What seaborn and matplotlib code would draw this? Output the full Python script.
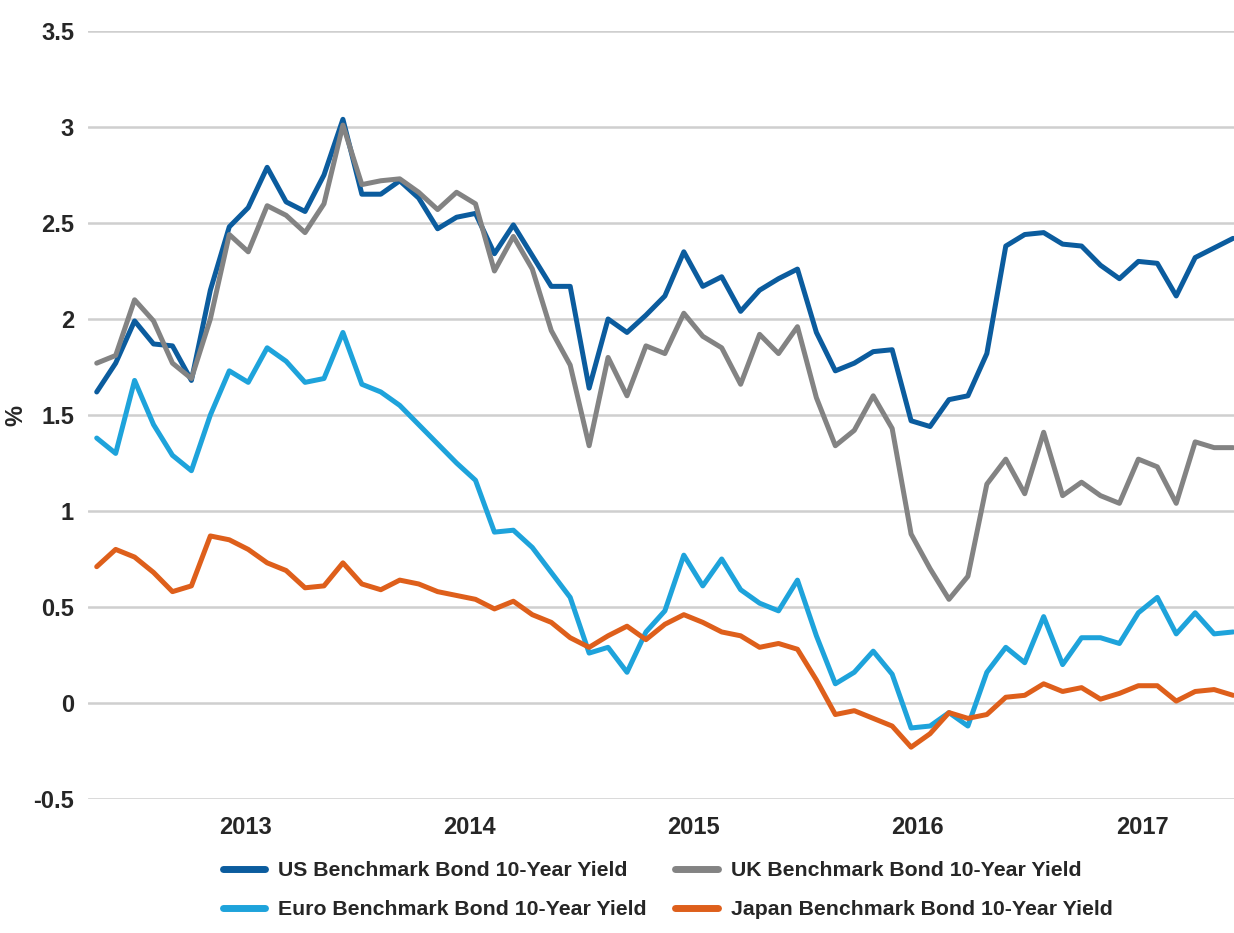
import numpy as np
import pandas as pd
import seaborn as sns
import matplotlib.pyplot as plt

# monthly 10-year benchmark yields, Nov 2012 .. Nov 2017 (61 months)
us = [1.62, 1.77, 1.99, 1.87, 1.86, 1.68, 2.15, 2.48, 2.58, 2.79,
      2.61, 2.56, 2.75, 3.04, 2.65, 2.65, 2.72, 2.63, 2.47, 2.53,
      2.55, 2.34, 2.49, 2.33, 2.17, 2.17, 1.64, 2.00, 1.93, 2.02,
      2.12, 2.35, 2.17, 2.22, 2.04, 2.15, 2.21, 2.26, 1.93, 1.73,
      1.77, 1.83, 1.84, 1.47, 1.44, 1.58, 1.60, 1.82, 2.38, 2.44,
      2.45, 2.39, 2.38, 2.28, 2.21, 2.30, 2.29, 2.12, 2.32, 2.37, 2.42]
uk = [1.77, 1.81, 2.10, 1.99, 1.77, 1.69, 2.00, 2.44, 2.35, 2.59,
      2.54, 2.45, 2.60, 3.01, 2.70, 2.72, 2.73, 2.66, 2.57, 2.66,
      2.60, 2.25, 2.43, 2.26, 1.94, 1.76, 1.34, 1.80, 1.60, 1.86,
      1.82, 2.03, 1.91, 1.85, 1.66, 1.92, 1.82, 1.96, 1.59, 1.34,
      1.42, 1.60, 1.43, 0.88, 0.70, 0.54, 0.66, 1.14, 1.27, 1.09,
      1.41, 1.08, 1.15, 1.08, 1.04, 1.27, 1.23, 1.04, 1.36, 1.33, 1.33]
euro = [1.38, 1.30, 1.68, 1.45, 1.29, 1.21, 1.50, 1.73, 1.67, 1.85,
        1.78, 1.67, 1.69, 1.93, 1.66, 1.62, 1.55, 1.45, 1.35, 1.25,
        1.16, 0.89, 0.90, 0.81, 0.68, 0.55, 0.26, 0.29, 0.16, 0.37,
        0.48, 0.77, 0.61, 0.75, 0.59, 0.52, 0.48, 0.64, 0.35, 0.10,
        0.16, 0.27, 0.15, -0.13, -0.12, -0.05, -0.12, 0.16, 0.29, 0.21,
        0.45, 0.20, 0.34, 0.34, 0.31, 0.47, 0.55, 0.36, 0.47, 0.36, 0.37]
japan = [0.71, 0.80, 0.76, 0.68, 0.58, 0.61, 0.87, 0.85, 0.80, 0.73,
         0.69, 0.60, 0.61, 0.73, 0.62, 0.59, 0.64, 0.62, 0.58, 0.56,
         0.54, 0.49, 0.53, 0.46, 0.42, 0.34, 0.29, 0.35, 0.40, 0.33,
         0.41, 0.46, 0.42, 0.37, 0.35, 0.29, 0.31, 0.28, 0.12, -0.06,
         -0.04, -0.08, -0.12, -0.23, -0.16, -0.05, -0.08, -0.06, 0.03, 0.04,
         0.10, 0.06, 0.08, 0.02, 0.05, 0.09, 0.09, 0.01, 0.06, 0.07, 0.04]

names = ["US Benchmark Bond 10-Year Yield", "UK Benchmark Bond 10-Year Yield",
         "Euro Benchmark Bond 10-Year Yield", "Japan Benchmark Bond 10-Year Yield"]
colors = ["#0b5c9e", "#838383", "#1ea3db", "#de5f1b"]
year_labels = ["2013", "2014", "2015", "2016", "2017"]
year_ticks = [7.83, 19.67, 31.5, 43.35, 55.2]

months = np.arange(len(us))
df = pd.concat([pd.DataFrame({"month": months, "yield": v, "series": n})
                for n, v in zip(names, [us, uk, euro, japan])])

sns.set_style("white")
plt.rcParams["font.family"] = ["Liberation Sans", "DejaVu Sans"]
plt.rcParams["font.weight"] = "bold"

fig = plt.figure(figsize=(12.34, 9.33), dpi=100)
ax = fig.add_axes([88 / 1234, 1 - 799 / 933, 1 - 88 / 1234, (799 - 31) / 933])

sns.lineplot(data=df, x="month", y="yield", hue="series", hue_order=names,
             palette=dict(zip(names, colors)), linewidth=3.6, ax=ax, legend=True)

ax.set_ylim(-0.5, 3.5)
ax.set_xlim(-0.46, 60.05)
ax.set_yticks([-0.5, 0, 0.5, 1, 1.5, 2, 2.5, 3, 3.5])
ax.set_yticklabels(["-0.5", "0", "0.5", "1", "1.5", "2", "2.5", "3", "3.5"])
ax.set_xticks(year_ticks)
ax.set_xticklabels(year_labels)
ax.yaxis.grid(True, color="#cfcfcf", linewidth=1.8)
ax.xaxis.grid(False)
ax.set_axisbelow(True)
for s in ax.spines.values():
    s.set_visible(False)
ax.tick_params(axis="both", length=0, labelsize=17)
ax.tick_params(axis="y", pad=10)
ax.tick_params(axis="x", pad=12)
for t in ax.get_xticklabels() + ax.get_yticklabels():
    t.set_fontweight("bold")
ax.set_xlabel("")
ax.set_ylabel("%", fontsize=17, fontweight="bold")
ax.yaxis.set_label_coords(-0.053, 0.5)

# legend rows: US / UK on top, Euro / Japan below
handles, labels = ax.get_legend_handles_labels()
ax.get_legend().remove()
order = [0, 2, 1, 3]
leg = fig.legend([handles[i] for i in order], [labels[i] for i in order],
                 loc="center", bbox_to_anchor=(0.541, 0.046),
                 ncol=2, frameon=False, fontsize=15.3, handlelength=2.0,
                 columnspacing=1.35, handletextpad=0.6, labelspacing=0.95)
for t in leg.get_texts():
    t.set_fontweight("bold")
for h in leg.get_lines():
    h.set_linewidth(5)

plt.savefig("out.png", dpi=100)
